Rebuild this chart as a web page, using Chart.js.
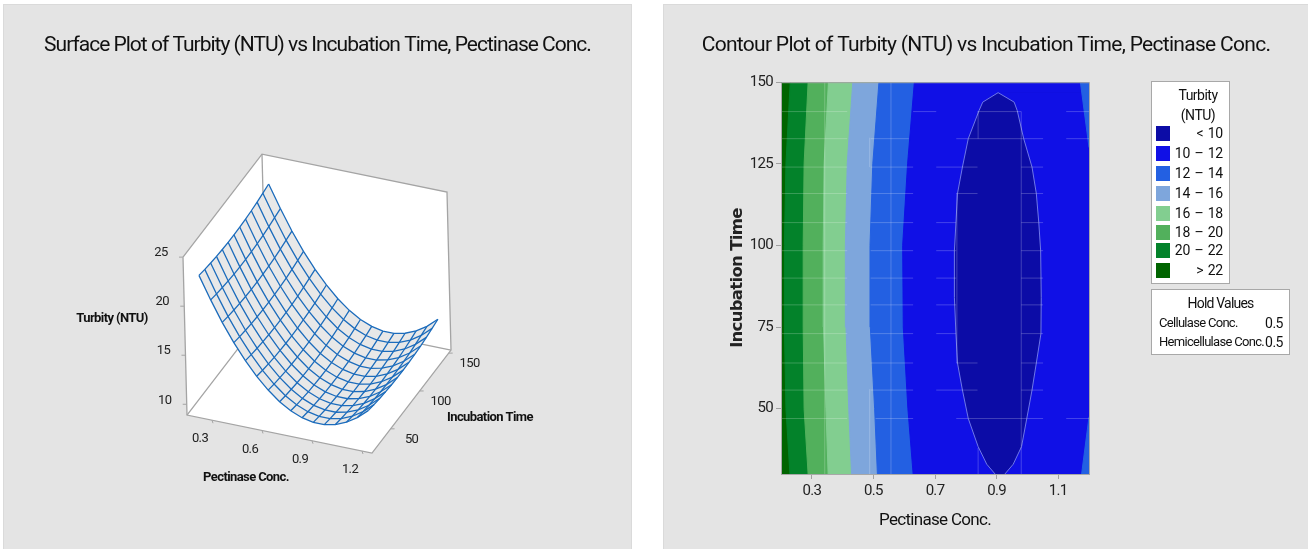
<!DOCTYPE html>
<html>
<head>
<meta charset="utf-8">
<title>Turbity plots</title>
<script src="https://cdn.jsdelivr.net/npm/chart.js@4"></script>
<style>
  html, body { margin: 0; padding: 0; background: #fff; }
  body { width: 1308px; height: 549px; position: relative; overflow: hidden; font-family: Roboto, sans-serif; color: #111; }
  .panel { position: absolute; top: 5px; height: 544px; background: #e4e4e4; outline: 1px solid #dadada; }
  #leftPanel { left: 4px; width: 627px; }
  #rightPanel { left: 664px; width: 644px; }
  canvas { position: absolute; left: 0; top: 0; }
  .box { position: absolute; background: #fff; border: 1px solid #a8a8a8; box-sizing: border-box; }
  .txt { position: absolute; font-size: 14px; line-height: 16px; white-space: nowrap; letter-spacing: -0.5px; }
  .swatch { position: absolute; width: 14px; height: 15px; }
</style>
</head>
<body>
<div class="panel" id="leftPanel"><canvas id="surfaceChart" width="627" height="544"></canvas></div>
<div class="panel" id="rightPanel"><canvas id="contourChart" width="644" height="544"></canvas></div>
<div id="legendLayer"></div>
<script>
const FONT = 'Roboto, sans-serif';

// surface grid
const concGrid = [0.2, 0.267, 0.333, 0.4, 0.467, 0.533, 0.6, 0.667, 0.733, 0.8, 0.867, 0.933, 1.0, 1.067, 1.133, 1.2];
const timeGrid = [30, 40, 50, 60, 70, 80, 90, 100, 110, 120, 130, 140, 150];
const turbidityGrid = [
  [22.39, 20.12, 18.06, 16.23, 14.63, 13.26, 12.09, 11.14, 10.44, 9.97, 9.73, 9.73, 9.97, 10.44, 11.14, 12.09],
  [22.23, 19.96, 17.90, 16.07, 14.47, 13.10, 11.93, 10.98, 10.28, 9.81, 9.57, 9.57, 9.81, 10.28, 10.98, 11.93],
  [22.11, 19.84, 17.78, 15.95, 14.35, 12.98, 11.81, 10.86, 10.16, 9.69, 9.45, 9.45, 9.69, 10.16, 10.86, 11.81],
  [22.01, 19.74, 17.68, 15.85, 14.25, 12.88, 11.71, 10.76, 10.06, 9.59, 9.35, 9.35, 9.59, 10.06, 10.76, 11.71],
  [21.94, 19.67, 17.61, 15.78, 14.18, 12.81, 11.64, 10.69, 9.99, 9.52, 9.28, 9.28, 9.52, 9.99, 10.69, 11.64],
  [21.90, 19.63, 17.57, 15.74, 14.14, 12.77, 11.60, 10.65, 9.95, 9.48, 9.24, 9.24, 9.48, 9.95, 10.65, 11.60],
  [21.89, 19.62, 17.56, 15.73, 14.13, 12.76, 11.59, 10.64, 9.94, 9.47, 9.23, 9.23, 9.47, 9.94, 10.64, 11.59],
  [21.91, 19.64, 17.58, 15.75, 14.15, 12.78, 11.61, 10.66, 9.96, 9.49, 9.25, 9.25, 9.49, 9.96, 10.66, 11.61],
  [21.96, 19.69, 17.63, 15.80, 14.20, 12.83, 11.66, 10.71, 10.01, 9.54, 9.30, 9.30, 9.54, 10.01, 10.71, 11.66],
  [22.03, 19.76, 17.70, 15.87, 14.27, 12.90, 11.73, 10.78, 10.08, 9.61, 9.37, 9.37, 9.61, 10.08, 10.78, 11.73],
  [22.14, 19.87, 17.81, 15.98, 14.38, 13.01, 11.84, 10.89, 10.19, 9.72, 9.48, 9.48, 9.72, 10.19, 10.89, 11.84],
  [22.28, 20.01, 17.95, 16.12, 14.52, 13.15, 11.98, 11.03, 10.33, 9.86, 9.62, 9.62, 9.86, 10.33, 11.03, 11.98],
  [22.44, 20.17, 18.11, 16.28, 14.68, 13.31, 12.14, 11.19, 10.49, 10.02, 9.78, 9.78, 10.02, 10.49, 11.19, 12.14]
];
const surfaceConcTicks = [0.3, 0.6, 0.9, 1.2];
const surfaceTimeTicks = [50, 100, 150];
const surfaceTurbTicks = [10, 15, 20, 25];

// contour boundaries: conc. where turbity crosses each level, at contourTimes
const contourTimes = [30, 50, 75, 100, 125, 150];
const level22 = [0.229, 0.216, 0.211, 0.211, 0.216, 0.230];
const level20 = [0.288, 0.275, 0.272, 0.272, 0.275, 0.288];
const level18 = [0.353, 0.346, 0.338, 0.337, 0.340, 0.354];
const level16 = [0.429, 0.420, 0.411, 0.409, 0.415, 0.433];
const level14 = [0.513, 0.504, 0.490, 0.489, 0.498, 0.518];
const level12 = [0.629, 0.612, 0.597, 0.595, 0.611, 0.633];
// the < 10 island, left and right side
const coreTimes = [30, 33, 38.4, 47, 55.7, 64, 73, 84, 98.4, 107, 115.9, 124, 132.7, 141.3, 143.9, 146.8];
const coreLeft = [0.895, 0.868, 0.84, 0.808, 0.789, 0.773, 0.768, 0.763, 0.763, 0.768, 0.773, 0.789, 0.808, 0.843, 0.855, 0.905];
const coreRight = [0.927, 0.954, 0.981, 0.998, 1.015, 1.029, 1.044, 1.045, 1.043, 1.037, 1.029, 1.015, 0.988, 0.967, 0.957, 0.905];
// 12 contour coming back in at the right edge
const rightLowTimes = [30, 47.5];
const rightLowConc = [1.176, 1.2];
const rightHighTimes = [130, 150];
const rightHighConc = [1.2, 1.172];

// faint mesh seams left in the contour rendering
const seamTimes = [141, 132.7, 124, 115.9, 107, 98.4, 90, 81.8, 73, 64, 55.7, 47];
const seamSpans = [
  [0.203, 0.415, 0.629, 0.704, 0.838, 0.98, 1.126, 1.2],
  [0.203, 0.415, 0.491, 0.615, 0.769, 1.051, 1.126, 1.2],
  [0.203, 0.415, 0.491, 0.629, 0.704, 0.838, 0.98, 1.051],
  [0.203, 0.415, 0.491, 0.629, 0.769, 0.838, 0.98, 1.051],
  [0.203, 0.415, 0.491, 0.629, 0.704, 0.769, 0.98, 1.051],
  [0.203, 0.415, 0.491, 0.629, 0.704, 0.769, 0.98, 1.051],
  [0.203, 0.415, 0.491, 0.629, 0.704, 0.769, 0.98, 1.051],
  [0.203, 0.415, 0.491, 0.629, 0.704, 0.769, 0.98, 1.051],
  [0.203, 0.415, 0.491, 0.629, 0.704, 0.769, 0.98, 1.051],
  [0.203, 0.415, 0.491, 0.629, 0.769, 0.838, 0.98, 1.051],
  [0.203, 0.415, 0.491, 0.629, 0.704, 0.838, 0.98, 1.051],
  [0.203, 0.415, 0.507, 0.629, 0.769, 1.051, 1.126, 1.2]
];
const seamConcs = [0.557, 0.342, 0.98, 0.771, 0.84, 0.84, 0.488, 0.488];
const seamFrom = [30, 30, 30, 64, 30, 132.7, 30, 124];
const seamTo = [150, 150, 141, 116, 38, 141, 56, 133];

const contourConcTicks = [0.3, 0.5, 0.7, 0.9, 1.1];
const contourTimeTicks = [50, 75, 100, 125, 150];

const bandLabels = ['< 10', '10 – 12', '12 – 14', '14 – 16', '16 – 18', '18 – 20', '20 – 22', '> 22'];
const bandColors = ['#0c0ca6', '#1010e6', '#2360e2', '#7ea6dc', '#82ce90', '#52b05c', '#03822a', '#006400'];
const holdNames = ['Cellulase Conc.', 'Hemicellulase Conc.'];
const holdValues = ['0.5', '0.5'];

// canvas text is tighter in the original, set it before anything is drawn
function tightText(spacing) {
  return {
    id: 'tightText',
    beforeDraw(chart) { chart.ctx.letterSpacing = spacing; }
  };
}

// ---- surface plot ----
// box ranges and the affine projection to page pixels
const CONC_RANGE = [0.15, 1.26];
const TIME_RANGE = [18, 154];
const TURB_RANGE = [8.9, 25];

function project(c, t, z) {
  const u = (c - CONC_RANGE[0]) / (CONC_RANGE[1] - CONC_RANGE[0]);
  const v = (t - TIME_RANGE[0]) / (TIME_RANGE[1] - TIME_RANGE[0]);
  const w = (z - TURB_RANGE[0]) / (TURB_RANGE[1] - TURB_RANGE[0]);
  return { x: 187 + u * 185 + v * 79 - w * 4, y: 415 + u * 38 - v * 103 - w * 158 };
}

const meshDatasets = [];
timeGrid.forEach((t, i) => {
  meshDatasets.push({ data: concGrid.map((c, j) => project(c, t, turbidityGrid[i][j])) });
});
concGrid.forEach((c, j) => {
  meshDatasets.push({ data: timeGrid.map((t, i) => project(c, t, turbidityGrid[i][j])) });
});
meshDatasets.forEach(ds => {
  ds.showLine = true;
  ds.pointRadius = 0;
  ds.borderColor = '#1c6cbc';
  ds.borderWidth = 1.3;
  ds.fill = false;
});

const surfaceBox = {
  id: 'surfaceBox',
  beforeDatasetsDraw(chart) {
    const { ctx, scales } = chart;
    const pt = (c, t, z) => {
      const p = project(c, t, z);
      return [scales.x.getPixelForValue(p.x), scales.y.getPixelForValue(p.y)];
    };
    const [c0, c1] = CONC_RANGE, [t0, t1] = TIME_RANGE, [z0, z1] = TURB_RANGE;
    const poly = pts => {
      ctx.beginPath();
      pts.forEach((p, i) => (i ? ctx.lineTo(p[0], p[1]) : ctx.moveTo(p[0], p[1])));
    };
    ctx.save();
    // walls and floor
    ctx.fillStyle = '#fff';
    [
      [pt(c0, t0, z0), pt(c1, t0, z0), pt(c1, t1, z0), pt(c0, t1, z0)],
      [pt(c0, t0, z0), pt(c0, t1, z0), pt(c0, t1, z1), pt(c0, t0, z1)],
      [pt(c0, t1, z0), pt(c1, t1, z0), pt(c1, t1, z1), pt(c0, t1, z1)]
    ].forEach(w => { poly(w); ctx.closePath(); ctx.fill(); });
    // edges
    ctx.strokeStyle = '#a4a4a4';
    ctx.lineWidth = 1.3;
    [
      [pt(c0, t0, z1), pt(c0, t1, z1), pt(c1, t1, z1), pt(c1, t1, z0), pt(c1, t0, z0), pt(c0, t0, z0), pt(c0, t0, z1)],
      [pt(c0, t0, z0), pt(c0, t1, z0), pt(c1, t1, z0)],
      [pt(c0, t1, z0), pt(c0, t1, z1)]
    ].forEach(e => { poly(e); ctx.stroke(); });
    // axis ticks
    ctx.lineWidth = 1;
    surfaceConcTicks.forEach(v => { const a = pt(v, t0, z0); poly([a, [a[0] + 1, a[1] + 3]]); ctx.stroke(); });
    surfaceTimeTicks.forEach(v => { const a = pt(c1, v, z0); poly([a, [a[0] + 4, a[1]]]); ctx.stroke(); });
    surfaceTurbTicks.forEach(v => { const a = pt(c0, t0, v); poly([a, [a[0] - 4, a[1]]]); ctx.stroke(); });
    // surface cells
    ctx.fillStyle = '#e8e8e8';
    for (let i = 0; i < timeGrid.length - 1; i++) {
      for (let j = 0; j < concGrid.length - 1; j++) {
        poly([
          pt(concGrid[j], timeGrid[i], turbidityGrid[i][j]),
          pt(concGrid[j + 1], timeGrid[i], turbidityGrid[i][j + 1]),
          pt(concGrid[j + 1], timeGrid[i + 1], turbidityGrid[i + 1][j + 1]),
          pt(concGrid[j], timeGrid[i + 1], turbidityGrid[i + 1][j])
        ]);
        ctx.closePath();
        ctx.fill();
      }
    }
    // labels
    ctx.letterSpacing = '-0.6px';
    ctx.fillStyle = '#222';
    ctx.font = '13px ' + FONT;
    ctx.textAlign = 'center';
    ctx.textBaseline = 'middle';
    surfaceConcTicks.forEach(v => { const a = pt(v, t0, z0); ctx.fillText(v.toFixed(1), a[0] - 12, a[1] + 19); });
    surfaceTimeTicks.forEach(v => { const a = pt(c1, v, z0); ctx.fillText(String(v), a[0] + 21, a[1] + 11); });
    surfaceTurbTicks.forEach(v => { const a = pt(c0, t0, v); ctx.fillText(String(v), a[0] - 22, a[1] - 4); });
    ctx.fillStyle = '#111';
    ctx.font = 'bold 13px ' + FONT;
    ctx.fillText('Turbity (NTU)', scales.x.getPixelForValue(112), scales.y.getPixelForValue(319));
    ctx.fillText('Pectinase Conc.', scales.x.getPixelForValue(246), scales.y.getPixelForValue(478));
    ctx.fillText('Incubation Time', scales.x.getPixelForValue(490), scales.y.getPixelForValue(418));
    ctx.restore();
  }
};

new Chart(document.getElementById('surfaceChart'), {
  type: 'scatter',
  data: { datasets: meshDatasets },
  plugins: [tightText('-1px'), surfaceBox],
  options: {
    responsive: false,
    animation: false,
    devicePixelRatio: 1,
    layout: { padding: 0 },
    plugins: {
      legend: { display: false },
      tooltip: { enabled: false },
      title: {
        display: true,
        text: 'Surface Plot of Turbity (NTU) vs Incubation Time, Pectinase Conc.',
        color: '#111',
        font: { family: FONT, size: 21, weight: 'normal', lineHeight: 1.2 },
        padding: { top: 28, bottom: 24 }
      }
    },
    // hidden scales run in page pixels, the plot is already projected
    scales: {
      x: { type: 'linear', display: false, min: 4, max: 631 },
      y: { type: 'linear', display: false, min: 82, max: 549, reverse: true }
    }
  }
});

// ---- contour plot ----
function boundary(times, concs) {
  return times.map((t, i) => ({ x: concs[i], y: t }));
}

const CONC_MAX = 1.2;
// each curve fills to the right edge, drawn from the highest level down
const contourCurves = [
  { data: boundary([30, 150], [0.2, 0.2]), color: bandColors[7] },
  { data: boundary(contourTimes, level22), color: bandColors[6] },
  { data: boundary(contourTimes, level20), color: bandColors[5] },
  { data: boundary(contourTimes, level18), color: bandColors[4] },
  { data: boundary(contourTimes, level16), color: bandColors[3] },
  { data: boundary(contourTimes, level14), color: bandColors[2] },
  { data: boundary(contourTimes, level12), color: bandColors[1] },
  { data: boundary(coreTimes, coreLeft), color: bandColors[0], line: '#6f78e8' },
  { data: boundary(coreTimes, coreRight), color: bandColors[1], line: '#6f78e8' },
  { data: boundary(rightLowTimes, rightLowConc), color: bandColors[2] },
  { data: boundary(rightHighTimes, rightHighConc), color: bandColors[2] }
];

const contourDatasets = contourCurves.map((c, i) => ({
  data: c.data,
  order: contourCurves.length - i + 1,
  backgroundColor: c.color,
  borderColor: c.line || c.color,
  borderWidth: 1,
  pointRadius: 0,
  tension: 0,
  fill: { value: CONC_MAX }
}));

// seams go on top of all bands
const SEAM_COLOR = 'rgba(255,255,255,0.22)';
function addSeam(points) {
  contourDatasets.push({ data: points, order: 0, borderColor: SEAM_COLOR, borderWidth: 1, pointRadius: 0, fill: false });
}
seamTimes.forEach((t, i) => {
  for (let k = 0; k < seamSpans[i].length; k += 2) {
    addSeam([{ x: seamSpans[i][k], y: t }, { x: seamSpans[i][k + 1], y: t }]);
  }
});
seamConcs.forEach((c, i) => addSeam([{ x: c, y: seamFrom[i] }, { x: c, y: seamTo[i] }]));

const plotFrame = {
  id: 'plotFrame',
  afterDatasetsDraw(chart) {
    const { ctx, chartArea: a } = chart;
    ctx.save();
    ctx.strokeStyle = '#a8a8a8';
    ctx.lineWidth = 1;
    ctx.strokeRect(a.left + 0.5, a.top + 0.5, a.right - a.left, a.bottom - a.top);
    ctx.restore();
  }
};

new Chart(document.getElementById('contourChart'), {
  type: 'line',
  data: { datasets: contourDatasets },
  plugins: [tightText('-0.7px'), plotFrame],
  options: {
    indexAxis: 'y',
    responsive: false,
    animation: false,
    devicePixelRatio: 1,
    plugins: {
      legend: { display: false },
      tooltip: { enabled: false },
      title: {
        display: true,
        text: 'Contour Plot of Turbity (NTU) vs Incubation Time, Pectinase Conc.',
        color: '#111',
        font: { family: FONT, size: 21, weight: 'normal', lineHeight: 1.2 },
        padding: { top: 28, bottom: 24 }
      }
    },
    scales: {
      x: {
        type: 'linear',
        min: 0.2,
        max: CONC_MAX,
        afterBuildTicks: s => { s.ticks = contourConcTicks.map(v => ({ value: v })); },
        afterFit: s => { s.height = 75; },
        grid: { drawOnChartArea: false, color: '#a0a0a0', tickLength: 5 },
        border: { color: '#a8a8a8' },
        ticks: { color: '#222', font: { family: FONT, size: 15 }, padding: 3, maxRotation: 0, autoSkip: false, callback: v => v.toFixed(1) },
        title: { display: true, text: 'Pectinase Conc.', color: '#111', font: { family: FONT, size: 17 }, padding: { top: 0, bottom: 18 } }
      },
      y: {
        type: 'linear',
        min: 30,
        max: 150,
        afterBuildTicks: s => { s.ticks = contourTimeTicks.map(v => ({ value: v })); },
        afterFit: s => { s.width = 117; },
        grid: { drawOnChartArea: false, color: '#a0a0a0', tickLength: 5 },
        border: { color: '#a8a8a8' },
        ticks: { color: '#222', font: { family: FONT, size: 15 }, padding: 3, autoSkip: false },
        title: { display: true, text: 'Incubation Time', color: '#222', font: { family: '"DejaVu Sans", sans-serif', size: 16.5, weight: 'bold' }, padding: { top: 64, bottom: 0 } }
      },
      // only keeps room for the legend boxes, so the title stays centred on the panel
      spacer: {
        type: 'linear',
        position: 'right',
        display: true,
        afterFit: s => { s.width = 219; },
        grid: { display: false },
        border: { display: false },
        ticks: { display: false }
      }
    }
  }
});

// ---- legend boxes ----
const layer = document.getElementById('legendLayer');
function addEl(cls, css, text) {
  const el = document.createElement('div');
  el.className = cls;
  Object.assign(el.style, css);
  if (text) el.textContent = text;
  layer.appendChild(el);
}
addEl('box', { left: '1151px', top: '81px', width: '79px', height: '203px' });
addEl('txt', { left: '1151px', width: '94px', top: '87px', textAlign: 'center' }, 'Turbity');
addEl('txt', { left: '1151px', width: '94px', top: '107px', textAlign: 'center' }, '(NTU)');
const rowY = [133, 153, 173, 193, 213, 232, 250, 270];
bandLabels.forEach((label, i) => {
  addEl('swatch', { left: '1156px', top: rowY[i] - 7 + 'px', background: bandColors[i] });
  addEl('txt', { left: '1170px', width: '53px', top: rowY[i] - 8 + 'px', textAlign: 'right', wordSpacing: '1px', letterSpacing: '-0.2px' }, label);
});
addEl('box', { left: '1151px', top: '289px', width: '139px', height: '66px' });
addEl('txt', { left: '1151px', width: '139px', top: '295px', textAlign: 'center', letterSpacing: '-0.8px' }, 'Hold Values');
holdNames.forEach((name, i) => {
  addEl('txt', { left: '1159px', top: 315 + i * 19 + 'px', fontSize: '13px', letterSpacing: '-0.7px' }, name);
  addEl('txt', { left: '1262px', width: '21px', top: 315 + i * 19 + 'px', textAlign: 'right' }, holdValues[i]);
});
</script>
</body>
</html>
